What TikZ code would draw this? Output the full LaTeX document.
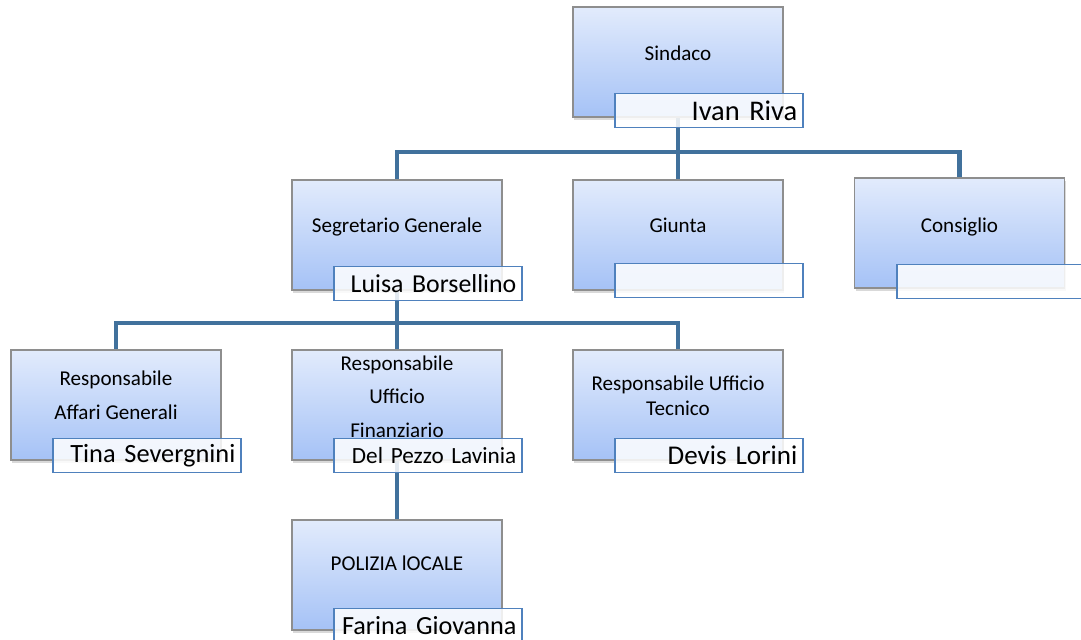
\documentclass[tikz,border=0pt]{standalone}
\usepackage{fontspec}
\setmainfont{Carlito}
\usetikzlibrary{positioning,shadows,backgrounds}
\definecolor{boxtop}{HTML}{E2EBFC}
\definecolor{boxbottom}{HTML}{A5C2F6}
\definecolor{boxline}{HTML}{8E8E8E}
\definecolor{nameline}{HTML}{4F81BD}
\definecolor{connline}{HTML}{41719C}

\begin{document}
\begin{tikzpicture}[
    office/.style={rectangle, draw=boxline, line width=0.6pt, top color=boxtop, bottom color=boxbottom,
        minimum width=4.2cm, minimum height=2.2cm,
        drop shadow={shadow xshift=0.6pt, shadow yshift=-1.6pt, opacity=0.3}},
    title/.style={font=\fontsize{12}{14}\selectfont, align=center, inner sep=0pt},
    person/.style={rectangle, draw=nameline, line width=1pt, fill=white, fill opacity=0.85, text opacity=1,
        minimum width=3.76cm, minimum height=0.68cm, text width=3.52cm, align=right, inner xsep=0.12cm,
        inner ysep=0.1cm, anchor=north west, font=\fontsize{#1}{#1}\selectfont},
    person/.default=14,
    conn/.style={connline, line width=2.8pt}
]
    % Fix the frame of the page
    \clip (0,0) rectangle (21.62,-12.78);

    % Offices
    \node[office] (sindaco) at (13.56,-1.24) {};
    \node[office] (segretario) at (7.94,-4.70) {};
    \node[office] (giunta) at (13.56,-4.70) {};
    \node[office] (consiglio) at (19.19,-4.66) {};
    \node[office] (affari) at (2.32,-8.10) {};
    \node[office] (finanziario) at (7.94,-8.10) {};
    \node[office] (tecnico) at (13.56,-8.10) {};
    \node[office] (polizia) at (7.94,-11.50) {};

    % Titles of the offices
    \node[title] (sindacot) at ([yshift=-0.94cm]sindaco.north) {Sindaco};
    \node[title] (segretariot) at ([yshift=-0.96cm]segretario.north) {Segretario Generale};
    \node[title] (giuntat) at ([yshift=-0.92cm]giunta.north) {Giunta};
    \node[title] (consigliot) at ([yshift=-1.00cm]consiglio.north) {Consiglio};
    \node[title] (affarit) at ([yshift=-0.92cm]affari.north) {Responsabile\\[0.18cm]Affari Generali};
    \node[title] (finanziariot) at ([yshift=-0.94cm]finanziario.north) {Responsabile\\[0.18cm]Ufficio\\[0.18cm]Finanziario};
    \node[title] (tecnicot) at ([yshift=-0.92cm]tecnico.north) {Responsabile Ufficio\\Tecnico};
    \node[title] (poliziat) at ([yshift=-0.88cm]polizia.north) {POLIZIA lOCALE};

    % Names
    \node[person=16.2] (ivan) at ([xshift=0.84cm,yshift=0.50cm]sindaco.south west) {Ivan Riva};
    \node[person=14.7] (luisa) at ([xshift=0.84cm,yshift=0.50cm]segretario.south west) {Luisa Borsellino};
    \node[person] (giuntap) at ([xshift=0.84cm,yshift=0.56cm]giunta.south west) {};
    \node[person] (consigliop) at ([xshift=0.84cm,yshift=0.50cm]consiglio.south west) {};
    \node[person=15] (tina) at ([xshift=0.84cm,yshift=0.46cm]affari.south west) {Tina Severgnini};
    \node[person=13.2] (lavinia) at ([xshift=0.84cm,yshift=0.46cm]finanziario.south west) {Del Pezzo Lavinia};
    \node[person=15.4] (devis) at ([xshift=0.84cm,yshift=0.46cm]tecnico.south west) {Devis Lorini};
    \node[person=14.9] (giovanna) at ([xshift=0.84cm,yshift=0.46cm]polizia.south west) {Farina Giovanna};

    % Connectors
    \begin{scope}[on background layer]
        \coordinate (bus1) at (13.56,-3.04);
        \coordinate (bus2) at (7.94,-6.46);
        \draw[conn] (sindaco.south) -- (giunta.north);
        \draw[conn] (segretario.north) |- (bus1) -| (consiglio.north);
        \draw[conn] (segretario.south) -- (finanziario.north);
        \draw[conn] (affari.north) |- (bus2) -| (tecnico.north);
        \draw[conn] (finanziario.south) -- (polizia.north);
    \end{scope}
\end{tikzpicture}
\end{document}
